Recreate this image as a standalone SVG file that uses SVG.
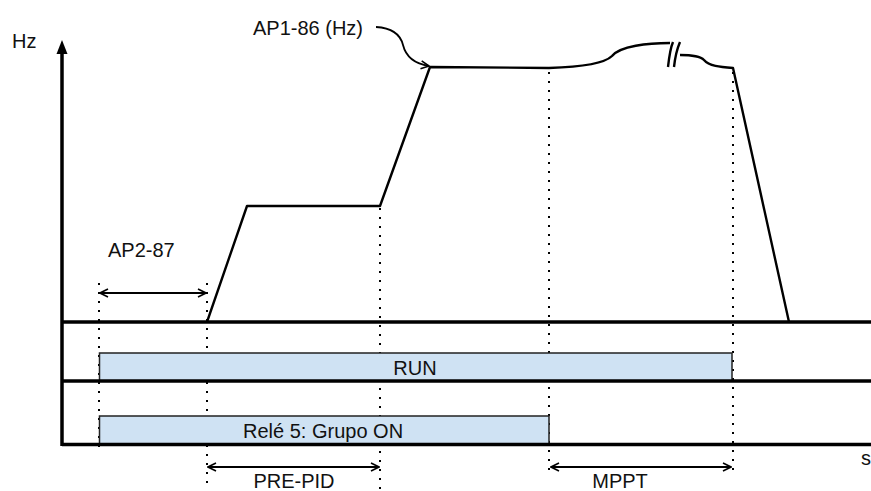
<svg xmlns="http://www.w3.org/2000/svg" width="871" height="491" viewBox="0 0 871 491">
  <defs>
    <marker id="open" viewBox="0 0 10 10" refX="9" refY="5" markerWidth="10" markerHeight="10" markerUnits="userSpaceOnUse" orient="auto-start-reverse">
      <path d="M1,1 L9,5 L1,9" fill="none" stroke="#000" stroke-width="1.6"/>
    </marker>
  </defs>
  <style>
    text { font-family: "Liberation Sans", Arial, sans-serif; font-size: 20px; fill: #111; }
    .axis { stroke: #000; stroke-width: 3.5; fill: none; }
    .dot { stroke: #000; stroke-width: 2; stroke-dasharray: 2 7; fill: none; }
    .curve { stroke: #000; stroke-width: 2.4; fill: none; stroke-linejoin: round; }
    .dim { stroke: #000; stroke-width: 2; fill: none; marker-start: url(#open); marker-end: url(#open); }
    .bar { fill: #cfe2f3; stroke: #222; stroke-width: 1.5; }
  </style>
  <rect width="871" height="491" fill="#fff"/>

  <!-- dotted time markers -->
  <g id="markers">
    <line class="dot" x1="99" y1="283" x2="99" y2="452"/>
    <line class="dot" x1="207" y1="283" x2="207" y2="490"/>
    <line class="dot" x1="380" y1="208" x2="380" y2="490"/>
    <line class="dot" x1="549" y1="72" x2="549" y2="476"/>
    <line class="dot" x1="733" y1="72" x2="733" y2="474"/>
  </g>

  <!-- signal bars -->
  <g id="run">
    <rect class="bar" x="99.5" y="353" width="632.5" height="28"/>
    <text x="415" y="375" text-anchor="middle">RUN</text>
  </g>
  <g id="rele5">
    <rect class="bar" x="99.5" y="416" width="449.5" height="28"/>
    <text x="243" y="438">Relé 5: Grupo ON</text>
  </g>

  <!-- axes and track lines -->
  <g id="axes">
    <line class="axis" x1="62" y1="446" x2="62" y2="52"/>
    <path d="M62,40 L56.5,54 L67.5,54 Z" fill="#000"/>
    <line class="axis" x1="62" y1="322" x2="871" y2="322"/>
    <line class="axis" x1="62" y1="381" x2="871" y2="381"/>
    <line class="axis" x1="62" y1="444.5" x2="871" y2="444.5"/>
    <text x="12" y="48">Hz</text>
    <text x="861" y="465">s</text>
  </g>

  <!-- frequency profile -->
  <g id="profile">
    <path class="curve" d="M207,322 L247,206 L380,206 L430,67 L549,68 C580,67 605,63 612,56 C620,46 648,43 670,43"/>
    <path class="curve" d="M680,55 C692,55 700,56 704,60 C709,66 720,67 733,68 L789,322"/>
    <path class="curve" d="M668,67 C669,58 670,49 673,42 M674,67 C675,58 677,49 680,42"/>
  </g>

  <!-- connectors: dimension arrows and pointer -->
  <g id="connectors">
    <line class="dim" x1="100" y1="293" x2="206" y2="293"/>
    <line class="dim" x1="208" y1="467" x2="379" y2="467"/>
    <line class="dim" x1="551" y1="467" x2="731" y2="467"/>
    <path d="M376,27 C395,28 401,37 403,45 C406,57 416,64 429,66" fill="none" stroke="#000" stroke-width="1.8" marker-end="url(#open)"/>
  </g>

  <g id="labels">
    <text x="363" y="35" text-anchor="end">AP1-86 (Hz)</text>
    <text x="108" y="257">AP2-87</text>
    <text x="294" y="488" text-anchor="middle">PRE-PID</text>
    <text x="620" y="488" text-anchor="middle">MPPT</text>
  </g>
</svg>
